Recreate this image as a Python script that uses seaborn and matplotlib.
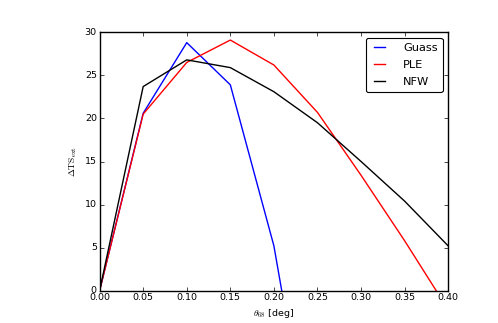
import pandas as pd
import seaborn as sns
import matplotlib
matplotlib.use("Agg")
import matplotlib.pyplot as plt

# values
theta = [0.00, 0.05, 0.10, 0.15, 0.20, 0.25, 0.30, 0.35, 0.40]
ts_gauss = [0.0, 20.6, 28.8, 23.9, 5.2, -23.7]
ts_ple = [0.0, 20.5, 26.5, 29.1, 26.2, 20.7, 13.4, 5.8, -2.2]
ts_nfw = [0.0, 23.7, 26.8, 25.9, 23.1, 19.5, 15.0, 10.4, 5.2]

plt.style.use("classic")
plt.rcParams["mathtext.fontset"] = "cm"
plt.rcParams["font.family"] = ["DejaVu Sans"]

df_gauss = pd.DataFrame({"theta": theta[:len(ts_gauss)], "ts": ts_gauss})
df_ple = pd.DataFrame({"theta": theta, "ts": ts_ple})
df_nfw = pd.DataFrame({"theta": theta, "ts": ts_nfw})

fig, ax = plt.subplots(figsize=(4.98, 3.23), dpi=100, facecolor="white")
fig.subplots_adjust(left=0.2, right=0.9, bottom=0.1, top=0.9)

sns.lineplot(data=df_gauss, x="theta", y="ts", color="blue", lw=1, label="Guass", ax=ax)
sns.lineplot(data=df_ple, x="theta", y="ts", color="red", lw=1, label="PLE", ax=ax)
sns.lineplot(data=df_nfw, x="theta", y="ts", color="black", lw=1, label="NFW", ax=ax)

ax.set_xlim(0, 0.4)
ax.set_ylim(0, 30)
ax.set_xticks([0.00, 0.05, 0.10, 0.15, 0.20, 0.25, 0.30, 0.35, 0.40])
ax.set_xticklabels(["0.00", "0.05", "0.10", "0.15", "0.20", "0.25", "0.30", "0.35", "0.40"])
ax.set_yticks([0, 5, 10, 15, 20, 25, 30])
ax.tick_params(labelsize=6.8, length=3, pad=2)
ax.set_xlabel(r"$\theta_{68}$ [deg]", fontsize=6.8, labelpad=3)
ax.set_ylabel(r"$\Delta\mathrm{TS}_{\rm ext}$", fontsize=6.8, labelpad=4)

leg = ax.legend(loc="upper right", fontsize=8.2, fancybox=True,
                handlelength=1.6, handletextpad=1.3, labelspacing=0.65)
leg.get_frame().set_linewidth(0.8)

fig.savefig("out.png", dpi=100, facecolor="white")
